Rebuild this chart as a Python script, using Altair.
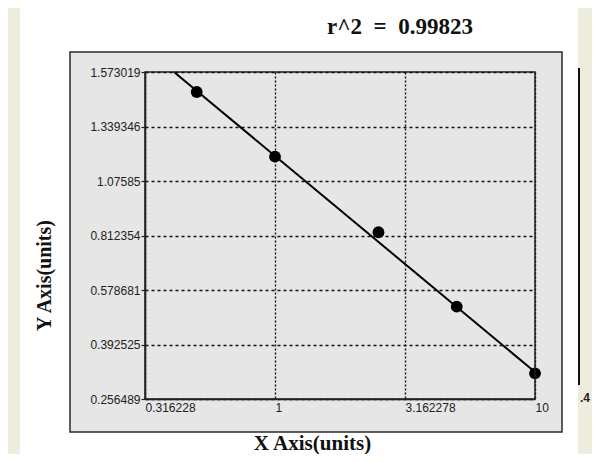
import altair as alt
import pandas as pd

# ---- data ----
x_values = [0.5, 1, 2.5, 5, 10]
y_values = [1.4873, 1.1934, 0.8279, 0.5217, 0.3206]
fit_x = [0.4088, 10]
fit_y = [1.573019, 0.3238]
y_ticks = [0.256489, 0.392525, 0.578681, 0.812354, 1.07585, 1.339346, 1.573019]
x_ticks = [0.316228, 1, 3.162278, 10]
title_text = "r^2\u00a0\u00a0=\u00a0\u00a00.99823"
x_title = "X Axis(units)"
y_title = "Y Axis(units)"
stray_label = ".4"

W, H = 390, 327
y_range = [H - i * H / (len(y_ticks) - 1) for i in range(len(y_ticks))]

pts = pd.DataFrame({"x": x_values, "y": y_values})
fit = pd.DataFrame({"x": fit_x, "y": fit_y})
dummy = pd.DataFrame({"d": [0]})
ttl = pd.DataFrame({"t": [title_text]})
stray = pd.DataFrame({"t": [stray_label]})

xs = alt.Scale(type="log", domain=[x_ticks[0], x_ticks[-1]], nice=False)
ys = alt.Scale(type="linear", domain=y_ticks, range=y_range, nice=False, zero=False)

x_axis = alt.Axis(
    values=x_ticks, labelExpr="'' + datum.value", title=x_title,
    titleX=167, titleY=44, titleAlign="center", titleBaseline="middle",
    titleFont="Liberation Serif", titleFontSize=21, titleFontWeight="bold", titleColor="#111",
    labelAlign="left", labelFont="Liberation Sans", labelFontSize=12, labelColor="#222",
    labelFlush=False, labelOverlap=False, ticks=False, labelPadding=3,
    grid=True, gridDash=[2, 2], gridColor="#111", gridWidth=1.4,
    domain=True, domainColor="#222", domainWidth=1.5, zindex=1,
)
y_axis = alt.Axis(
    values=y_ticks, labelExpr="'' + datum.value", title=y_title,
    titleX=-101, titleY=203, titleAngle=270, titleAlign="center", titleBaseline="middle",
    titleFont="Liberation Serif", titleFontSize=20, titleFontWeight="bold", titleColor="#111",
    labelFont="Liberation Sans", labelFontSize=12, labelColor="#222",
    labelOverlap=False, ticks=True, tickSize=4, tickColor="#222", tickWidth=1.2, labelPadding=1,
    grid=True, gridDash=[3, 3], gridColor="#111", gridWidth=1.4,
    domain=True, domainColor="#222", domainWidth=1.5, zindex=1,
)

cream_left = alt.Chart(dummy).mark_rect(color="#eeeddd").encode(
    x=alt.value(-137), x2=alt.value(-125), y=alt.value(-64), y2=alt.value(382))
cream_right = alt.Chart(dummy).mark_rect(color="#eeeddd").encode(
    x=alt.value(433), x2=alt.value(447), y=alt.value(-64), y2=alt.value(382))
panel = alt.Chart(dummy).mark_rect(color="#e5e6e5", stroke="#2a2a2a", strokeWidth=1.5).encode(
    x=alt.value(-75), x2=alt.value(417), y=alt.value(-20), y2=alt.value(360))
vline = alt.Chart(dummy).mark_rule(color="#111", strokeWidth=2).encode(
    x=alt.value(434), y=alt.value(-4), y2=alt.value(313))
stray_txt = alt.Chart(stray).mark_text(
    font="Liberation Sans", fontSize=12, fontWeight="bold", color="#222", align="center", baseline="middle"
).encode(x=alt.value(440), y=alt.value(326), text="t:N")
title_txt = alt.Chart(ttl).mark_text(
    font="Liberation Serif", fontSize=23, fontWeight="bold", color="#111", align="center", baseline="middle"
).encode(x=alt.value(255), y=alt.value(-45), text="t:N")

line = alt.Chart(fit).mark_line(color="#000", strokeWidth=2).encode(
    x=alt.X("x:Q", scale=xs, axis=x_axis), y=alt.Y("y:Q", scale=ys, axis=y_axis))
points = alt.Chart(pts).mark_point(filled=True, color="#000", size=140, opacity=1).encode(
    x=alt.X("x:Q", scale=xs), y=alt.Y("y:Q", scale=ys))
frame = alt.Chart(dummy).mark_rect(fillOpacity=0, stroke="#222", strokeWidth=1.5).encode(
    x=alt.value(0), x2=alt.value(W), y=alt.value(0), y2=alt.value(H))

chart = alt.layer(
    cream_left, cream_right, panel, vline, stray_txt, title_txt, line, points, frame
).properties(
    width=W, height=H,
    autosize=alt.AutoSizeParams(type="none"),
    padding={"left": 137, "top": 64, "right": 57, "bottom": 55},
    background="white",
).configure_view(strokeWidth=0)

chart.save("out.html", embed_options={"renderer": "svg", "actions": False})
